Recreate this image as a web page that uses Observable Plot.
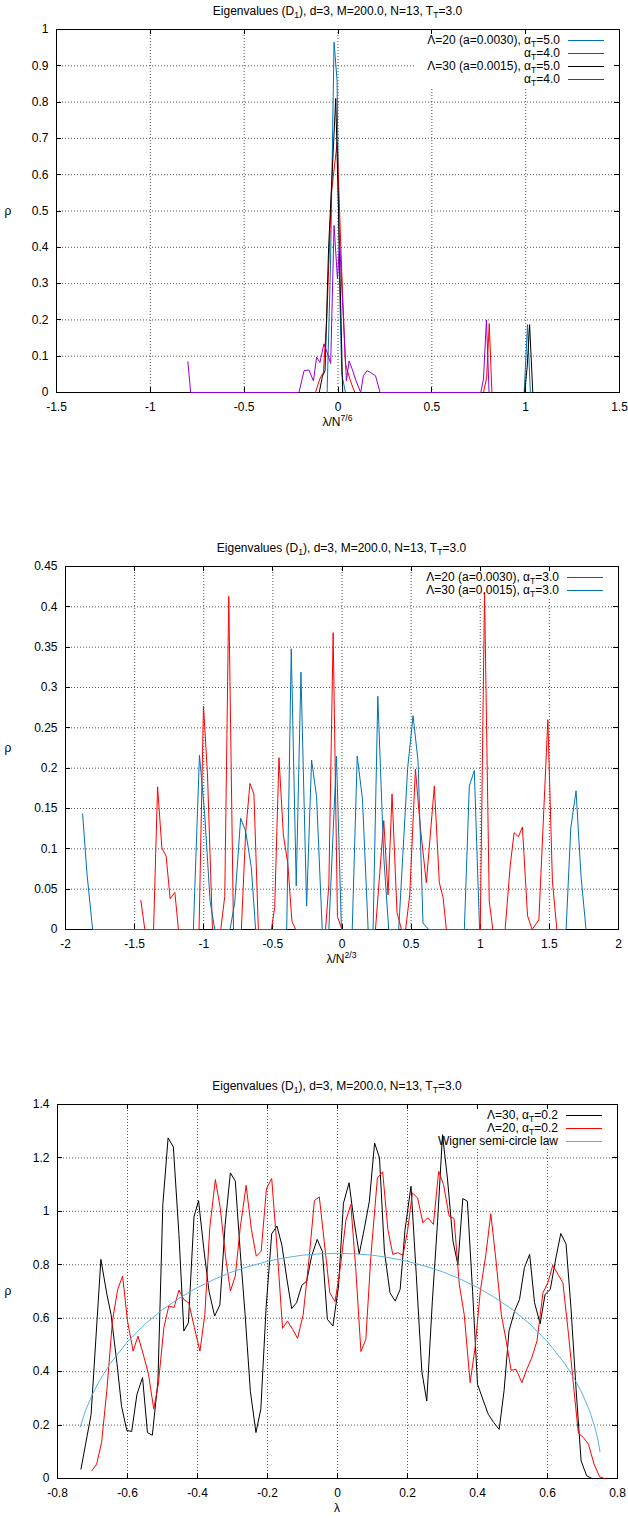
<!DOCTYPE html>
<html><head><meta charset="utf-8">
<script src="https://cdn.jsdelivr.net/npm/d3@7"></script>
<script src="https://cdn.jsdelivr.net/npm/@observablehq/plot@0.6"></script>
<style>
html,body{margin:0;padding:0;background:#fff;}
#root{position:relative;width:628px;height:1518px;overflow:hidden;}
.pnl{position:absolute;left:0;}
</style></head><body><div id="root"></div>
<script>
const FONT = "'Liberation Sans', Arial, Helvetica, sans-serif";
const TITLE = "Eigenvalues (D_{1}), d=3, M=200.0, N=13, T_{T}=3.0";

// ---------- Panel 1 ----------
const p1XTicks = [-1.5, -1, -0.5, 0, 0.5, 1, 1.5];
const p1YTicks = [0, 0.1, 0.2, 0.3, 0.4, 0.5, 0.6, 0.7, 0.8, 0.9, 1];
const p1Labels = ["Λ=20 (a=0.0030), α_{T}=5.0", "α_{T}=4.0", "Λ=30 (a=0.0015), α_{T}=5.0", "α_{T}=4.0"];
const p1Colors = ["#0072b2", "#ff0000", "#000000", "#9400d3"];
const p1L20a5 = [[-0.058,0],[-0.04,0.35],[-0.021,0.965],[-0.005,0.86],[0.008,0.3],[0.02,0.05],[0.04,0],[0.992,0],[1.01,0.187],[1.025,0]];
const p1L20a4 = [[-0.12,0],[-0.095,0.04],[-0.078,0.055],[-0.06,0.2],[-0.035,0.55],[-0.004,0.69],[0.015,0.4],[0.03,0.2],[0.04,0.078],[0.058,0.046],[0.076,0.018],[0.09,0],[0.775,0],[0.792,0.04],[0.806,0.19],[0.82,0]];
const p1L30a5 = [[-0.1,0],[-0.083,0.045],[-0.069,0.06],[-0.05,0.4],[-0.012,0.81],[0.005,0.45],[0.025,0],[0.995,0],[1.008,0.07],[1.021,0.187],[1.038,0]];
const p1L30a4 = [[-0.8,0.085],[-0.785,0],[-0.208,0],[-0.181,0.06],[-0.155,0.062],[-0.131,0.032],[-0.114,0.097],[-0.096,0.083],[-0.075,0.134],[-0.058,0.11],[-0.039,0.08],[-0.021,0.46],[-0.003,0.314],[0.009,0.41],[0.045,0.032],[0.059,0.087],[0.076,0.064],[0.094,0.035],[0.121,0],[0.135,0.046],[0.155,0.06],[0.174,0.055],[0.2,0.046],[0.224,0],[0.761,0],[0.775,0.037],[0.791,0.2],[0.805,0]];

// ---------- Panel 2 ----------
const p2XTicks = [-2, -1.5, -1, -0.5, 0, 0.5, 1, 1.5, 2];
const p2YTicks = [0, 0.05, 0.1, 0.15, 0.2, 0.25, 0.3, 0.35, 0.4, 0.45];
const p2Labels = ["Λ=20 (a=0.0030), α_{T}=3.0", "Λ=30 (a=0.0015), α_{T}=3.0"];
const p2Colors = ["#ff0000", "#0072b2"];
const p2L20 = [[-1.455,0.036],[-1.426,0],[-1.363,0],[-1.334,0.177],[-1.303,0.101],[-1.272,0.091],[-1.243,0.038],[-1.209,0.046],[-1.183,0],[-1.034,0],[-1.002,0.277],[-0.973,0.193],[-0.937,0],[-0.877,0],[-0.848,0.041],[-0.819,0.413],[-0.785,0],[-0.728,0],[-0.697,0.12],[-0.666,0.181],[-0.637,0.168],[-0.605,0],[-0.511,0],[-0.487,0.027],[-0.456,0.213],[-0.424,0.117],[-0.392,0.082],[-0.362,0.01],[-0.335,0],[-0.119,0],[-0.095,0.056],[-0.064,0.368],[-0.033,0.016],[0,0],[0.242,0],[0.302,0.135],[0.333,0.043],[0.362,0.168],[0.398,0.021],[0.43,0],[0.46,0],[0.49,0.043],[0.531,0.199],[0.567,0.126],[0.61,0.058],[0.668,0.178],[0.704,0.058],[0.731,0.04],[0.755,0],[1.0,0],[1.031,0.418],[1.065,0.035],[1.091,0],[1.18,0],[1.217,0.08],[1.245,0.12],[1.276,0.115],[1.305,0.127],[1.342,0.017],[1.375,0],[1.424,0.012],[1.489,0.26],[1.522,0.06],[1.554,0]];
const p2L30 = [[-1.876,0.143],[-1.845,0.07],[-1.804,0],[-1.075,0],[-1.031,0.216],[-0.993,0.143],[-0.954,0.035],[-0.92,0],[-0.81,0],[-0.776,0.033],[-0.733,0.138],[-0.697,0.122],[-0.656,0.077],[-0.625,0],[-0.4,0],[-0.367,0.348],[-0.331,0.054],[-0.297,0.319],[-0.256,0.029],[-0.22,0.21],[-0.184,0.165],[-0.143,0],[-0.095,0],[-0.04,0.215],[-0.004,0],[0.074,0],[0.11,0.215],[0.148,0.162],[0.189,0],[0.225,0],[0.259,0.289],[0.302,0.09],[0.338,0],[0.41,0],[0.475,0.2],[0.514,0.265],[0.55,0.209],[0.586,0.008],[0.627,0],[0.885,0],[0.921,0.178],[0.957,0.197],[0.995,0],[1.621,0],[1.655,0.126],[1.693,0.172],[1.729,0.066],[1.765,0]];

// ---------- Panel 3 ----------
const p3XTicks = [-0.8, -0.6, -0.4, -0.2, 0, 0.2, 0.4, 0.6, 0.8];
const p3YTicks = [0, 0.2, 0.4, 0.6, 0.8, 1, 1.2, 1.4];
const p3Labels = ["Λ=30, α_{T}=0.2", "Λ=20, α_{T}=0.2", "Wigner semi-circle law"];
const p3Colors = ["#000000", "#ff0000", "#56b4e9"];
const p3L30 = [[-0.733,0.035],[-0.704,0.24],[-0.676,0.82],[-0.659,0.69],[-0.647,0.614],[-0.63,0.43],[-0.617,0.27],[-0.602,0.18],[-0.588,0.176],[-0.573,0.315],[-0.557,0.378],[-0.543,0.172],[-0.529,0.162],[-0.513,0.365],[-0.499,1.026],[-0.484,1.275],[-0.469,1.241],[-0.453,0.913],[-0.439,0.552],[-0.426,0.583],[-0.41,0.98],[-0.397,1.04],[-0.382,0.86],[-0.367,0.70],[-0.351,0.608],[-0.336,0.65],[-0.321,0.95],[-0.306,1.144],[-0.292,1.113],[-0.278,0.85],[-0.264,0.614],[-0.249,0.327],[-0.233,0.172],[-0.219,0.26],[-0.204,0.64],[-0.188,0.916],[-0.173,0.945],[-0.159,0.874],[-0.145,0.75],[-0.131,0.636],[-0.117,0.658],[-0.102,0.723],[-0.088,0.739],[-0.074,0.832],[-0.058,0.895],[-0.043,0.849],[-0.029,0.596],[-0.013,0.571],[0.003,0.72],[0.017,1.03],[0.033,1.107],[0.046,0.976],[0.062,0.84],[0.077,0.938],[0.091,1.038],[0.106,1.256],[0.12,1.2],[0.134,0.851],[0.15,0.695],[0.165,0.664],[0.179,0.708],[0.193,0.932],[0.21,1.094],[0.225,0.764],[0.241,0.4],[0.255,0.29],[0.271,0.664],[0.286,0.963],[0.3,1.287],[0.314,1.125],[0.33,0.888],[0.344,0.8],[0.358,1.048],[0.371,1.038],[0.386,0.7],[0.4,0.353],[0.417,0.29],[0.431,0.24],[0.446,0.21],[0.462,0.184],[0.476,0.33],[0.49,0.552],[0.506,0.627],[0.52,0.67],[0.534,0.789],[0.549,0.839],[0.563,0.658],[0.579,0.579],[0.593,0.689],[0.608,0.708],[0.624,0.826],[0.638,0.917],[0.653,0.878],[0.667,0.64],[0.682,0.328],[0.696,0.066],[0.712,0.01],[0.727,0]];
const p3L20 = [[-0.702,0.029],[-0.688,0.054],[-0.674,0.135],[-0.659,0.33],[-0.643,0.59],[-0.628,0.708],[-0.614,0.758],[-0.6,0.59],[-0.584,0.477],[-0.57,0.533],[-0.555,0.465],[-0.54,0.39],[-0.525,0.26],[-0.512,0.353],[-0.496,0.565],[-0.482,0.646],[-0.467,0.64],[-0.453,0.705],[-0.439,0.67],[-0.425,0.658],[-0.409,0.565],[-0.393,0.477],[-0.379,0.614],[-0.365,0.938],[-0.349,1.119],[-0.335,1.013],[-0.32,0.832],[-0.306,0.702],[-0.292,0.758],[-0.278,0.938],[-0.261,1.097],[-0.246,0.932],[-0.232,0.832],[-0.218,0.851],[-0.203,1.085],[-0.188,1.123],[-0.172,0.85],[-0.157,0.562],[-0.143,0.589],[-0.128,0.558],[-0.114,0.525],[-0.098,0.614],[-0.081,0.826],[-0.066,1.04],[-0.052,1.054],[-0.038,0.888],[-0.022,0.695],[-0.007,0.662],[0.008,0.789],[0.024,0.966],[0.038,1.026],[0.052,0.789],[0.067,0.475],[0.081,0.521],[0.095,0.826],[0.114,1.125],[0.129,1.148],[0.144,0.932],[0.158,0.839],[0.172,0.845],[0.187,0.836],[0.2,0.926],[0.214,1.069],[0.229,1.05],[0.244,0.957],[0.258,0.976],[0.274,0.951],[0.289,1.15],[0.303,1.1],[0.319,0.982],[0.333,0.973],[0.348,0.727],[0.362,0.614],[0.379,0.359],[0.393,0.489],[0.408,0.702],[0.424,0.839],[0.438,0.991],[0.453,0.814],[0.468,0.614],[0.482,0.515],[0.496,0.405],[0.51,0.409],[0.527,0.359],[0.541,0.409],[0.555,0.452],[0.57,0.515],[0.587,0.695],[0.601,0.733],[0.615,0.798],[0.63,0.764],[0.644,0.733],[0.66,0.54],[0.674,0.353],[0.688,0.17],[0.703,0.153],[0.717,0.128],[0.733,0.054],[0.749,0.006],[0.763,0]];
const p3Wigner = [[-0.735,0.193],[-0.72,0.254],[-0.7,0.316],[-0.68,0.366],[-0.65,0.429],[-0.6,0.512],[-0.55,0.578],[-0.5,0.632],[-0.45,0.677],[-0.4,0.715],[-0.35,0.747],[-0.3,0.774],[-0.25,0.795],[-0.2,0.813],[-0.15,0.826],[-0.1,0.836],[-0.05,0.841],[0,0.843],[0.05,0.841],[0.1,0.836],[0.15,0.826],[0.2,0.813],[0.25,0.795],[0.3,0.774],[0.35,0.747],[0.4,0.715],[0.45,0.677],[0.5,0.632],[0.55,0.578],[0.6,0.512],[0.65,0.429],[0.68,0.366],[0.7,0.316],[0.72,0.254],[0.735,0.193],[0.745,0.14],[0.75,0.1]];

// ---------- helpers ----------
function rich(parent, str, x, y, anchor, size, fill) {
  const t = parent.append("text").attr("x", x).attr("y", y)
    .attr("text-anchor", anchor).attr("font-size", size)
    .attr("font-family", FONT).attr("fill", fill || "black");
  const re = /([_^])\{([^}]*)\}/g;
  const parts = []; let last = 0, m;
  while ((m = re.exec(str))) {
    if (m.index > last) parts.push({t: str.slice(last, m.index), k: 0});
    parts.push({t: m[2], k: m[1] === "_" ? 1 : -1});
    last = re.lastIndex;
  }
  if (last < str.length) parts.push({t: str.slice(last), k: 0});
  let cur = 0;
  for (const p of parts) {
    const target = p.k === 1 ? size * 0.25 : p.k === -1 ? -size * 0.42 : 0;
    const ts = t.append("tspan").text(p.t);
    if (target !== cur) { ts.attr("dy", target - cur); cur = target; }
    if (p.k) ts.attr("font-size", size * 0.72);
  }
  return t;
}

function makePanel(cfg) {
  const legendBox = (index, scales, values, dim) => {
    const g = d3.create("svg:g");
    const R = dim.width - dim.marginRight, T = dim.marginTop;
    const n = cfg.labels.length;
    g.append("rect").attr("class", "lgbox").attr("x", R - 200).attr("y", T + 1)
      .attr("width", 199).attr("height", 11 + 13 * (n - 1) + 7).attr("fill", "white");
    return g.node();
  };
  const tickMarks = (index, scales, values, dim) => {
    const g = d3.create("svg:g").attr("stroke", "black").attr("stroke-width", 1);
    const L = dim.marginLeft, R = dim.width - dim.marginRight, T = dim.marginTop, B = dim.height - dim.marginBottom;
    for (const v of cfg.xTicks) {
      const X = Math.round(scales.x(v)) + 0.5;
      g.append("line").attr("x1", X).attr("x2", X).attr("y1", B).attr("y2", B - 5);
      g.append("line").attr("x1", X).attr("x2", X).attr("y1", T).attr("y2", T + 5);
    }
    for (const v of cfg.yTicks) {
      const Y = Math.round(scales.y(v)) + 0.5;
      g.append("line").attr("x1", L).attr("x2", L + 5).attr("y1", Y).attr("y2", Y);
      g.append("line").attr("x1", R).attr("x2", R - 5).attr("y1", Y).attr("y2", Y);
    }
    return g.node();
  };
  const front = (index, scales, values, dim) => {
    const g = d3.create("svg:g");
    const L = dim.marginLeft, R = dim.width - dim.marginRight, T = dim.marginTop, B = dim.height - dim.marginBottom;
    cfg.labels.forEach((lab, i) => {
      const cy = T + 11 + 13 * i;
      rich(g, lab, R - 59, cy + 4, "end", 12).attr("class", "lg");
      g.append("line").attr("x1", R - 51).attr("x2", R - 15).attr("y1", cy + 0.5).attr("y2", cy + 0.5)
        .attr("stroke", cfg.colors[i]).attr("stroke-width", 1.2);
    });
    rich(g, TITLE, (L + R) / 2, T - 14, "middle", 12);
    rich(g, cfg.xLabel, (L + R) / 2, B + 34, "middle", 12);
    rich(g, "ρ", 8, (T + B) / 2 + 4, "middle", 12);
    return g.node();
  };
  const marks = [
    Plot.gridX(cfg.xTicks, {stroke: "#555", strokeOpacity: 1, strokeDasharray: "1,2", strokeWidth: 1}),
    Plot.gridY(cfg.yTicks, {stroke: "#555", strokeOpacity: 1, strokeDasharray: "1,2", strokeWidth: 1}),
    legendBox,
    Plot.frame({stroke: "black", strokeWidth: 1}),
    tickMarks,
    Plot.axisX(cfg.xTicks, {anchor: "bottom", tickSize: 0, tickPadding: 10, fontSize: 12, label: null, tickFormat: d => String(d)}),
    Plot.axisY(cfg.yTicks, {anchor: "left", tickSize: 0, tickPadding: 8, fontSize: 12, label: null, tickFormat: d => String(d)}),
    ...cfg.series.map((s, i) => Plot.line(s, {x: d => d[0], y: d => d[1], stroke: cfg.colors[i], strokeWidth: 1})),
    front
  ];
  const svg = Plot.plot({
    width: 628, height: cfg.height,
    marginLeft: cfg.ml, marginRight: cfg.mr, marginTop: cfg.mt, marginBottom: cfg.mb,
    x: {domain: cfg.xDomain}, y: {domain: cfg.yDomain},
    style: {background: "white", fontFamily: FONT, fontSize: "12px", color: "black", overflow: "visible"},
    marks
  });
  const div = document.createElement("div");
  div.className = "pnl";
  div.style.top = cfg.top + "px";
  div.appendChild(svg);
  document.getElementById("root").appendChild(div);
  // size the legend background to its text
  const texts = svg.querySelectorAll("text.lg");
  let minX = Infinity;
  texts.forEach(t => { minX = Math.min(minX, t.getBBox().x); });
  const rect = svg.querySelector("rect.lgbox");
  const R = 628 - cfg.mr;
  if (rect && isFinite(minX)) {
    rect.setAttribute("x", minX - 12);
    rect.setAttribute("width", R - 1 - (minX - 12));
  }
}

makePanel({top: 0, height: 432, ml: 56, mr: 9, mt: 29, mb: 40,
  xDomain: [-1.5, 1.5], yDomain: [0, 1], xTicks: p1XTicks, yTicks: p1YTicks,
  labels: p1Labels, colors: p1Colors, series: [p1L20a5, p1L20a4, p1L30a5, p1L30a4],
  xLabel: "λ/N^{7/6}"});
makePanel({top: 530, height: 440, ml: 65, mr: 10, mt: 36, mb: 41,
  xDomain: [-2, 2], yDomain: [0, 0.45], xTicks: p2XTicks, yTicks: p2YTicks,
  labels: p2Labels, colors: p2Colors, series: [p2L20, p2L30],
  xLabel: "λ/N^{2/3}"});
makePanel({top: 1066, height: 452, ml: 57, mr: 11, mt: 38, mb: 40,
  xDomain: [-0.8, 0.8], yDomain: [0, 1.4], xTicks: p3XTicks, yTicks: p3YTicks,
  labels: p3Labels, colors: p3Colors, series: [p3L30, p3L20, p3Wigner],
  xLabel: "λ"});
</script></body></html>
